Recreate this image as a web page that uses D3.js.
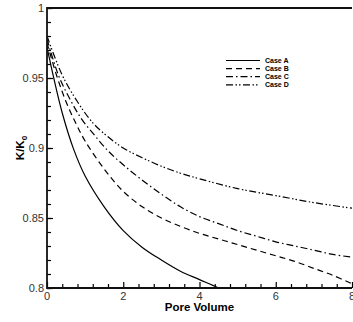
<!DOCTYPE html>
<html lang="en">
	<head>
		<meta charset="utf-8">
		<title>K/K0 vs Pore Volume</title>
		<script type="text/javascript" src="https://cdn.jsdelivr.net/npm/d3@7"></script>
		<style>
			body { margin: 0; background: #fff; }
			text { font-family: "Liberation Sans", Arial, sans-serif; }
		</style>
	</head>
	<body>
		<script type="text/javascript">

			//
			// Data
			//
			var caseNames = ["Case A", "Case B", "Case C", "Case D"];

			var caseAx = [0, 0.16, 0.4, 0.7, 1.0, 1.5, 2.0, 2.5, 3.0, 3.5, 4.0, 4.5, 4.7];
			var caseAy = [0.972, 0.952, 0.925, 0.899, 0.880, 0.858, 0.841, 0.829, 0.820, 0.812, 0.806, 0.800, 0.797];

			var caseBx = [0, 0.25, 0.5, 0.75, 1.0, 1.5, 2.0, 2.5, 3.0, 3.5, 4.0, 4.5, 5.0, 5.5, 6.0, 6.5, 7.0, 7.5, 8.0];
			var caseBy = [0.975, 0.952, 0.933, 0.918, 0.905, 0.885, 0.869, 0.858, 0.850, 0.844, 0.839, 0.835, 0.831, 0.827, 0.823, 0.819, 0.814, 0.809, 0.803];

			var caseCx = [0, 0.3, 0.6, 0.9, 1.25, 1.6, 2.0, 2.5, 3.0, 3.5, 4.0, 4.5, 5.0, 5.5, 6.0, 6.5, 7.0, 7.5, 8.0];
			var caseCy = [0.978, 0.952, 0.935, 0.921, 0.909, 0.898, 0.888, 0.877, 0.867, 0.858, 0.851, 0.846, 0.841, 0.837, 0.833, 0.830, 0.827, 0.824, 0.822];

			var caseDx = [0, 0.4, 0.8, 1.2, 1.6, 2.0, 2.5, 3.0, 3.5, 4.0, 5.0, 6.0, 7.0, 8.0];
			var caseDy = [0.980, 0.952, 0.933, 0.918, 0.908, 0.900, 0.893, 0.887, 0.882, 0.878, 0.871, 0.866, 0.861, 0.857];

			var xMajorTicks = [0, 2, 4, 6, 8];
			var yMajorTicks = [0.8, 0.85, 0.9, 0.95, 1];

			var dashes = [null, "6,4", "7,3,1.5,3", "7,2.5,1.5,2,1.5,2.5"];

			//
			// Layout
			//
			var width = 353, height = 322;
			var plotLeft = 47, plotRight = 352, plotTop = 8, plotBottom = 288;

			var svg = d3.select("body")
				.append("svg")
				.attr("width", width)
				.attr("height", height);

			var x = d3.scaleLinear().domain([0, 8]).range([plotLeft, plotRight]);
			var y = d3.scaleLinear().domain([0.8, 1]).range([plotBottom, plotTop]);

			svg.append("clipPath")
				.attr("id", "plot")
				.append("rect")
				.attr("x", plotLeft).attr("y", plotTop)
				.attr("width", plotRight - plotLeft).attr("height", plotBottom - plotTop);

			var series = [
				d3.zip(caseAx, caseAy),
				d3.zip(caseBx, caseBy),
				d3.zip(caseCx, caseCy),
				d3.zip(caseDx, caseDy)
			];

			var line = d3.line()
				.x(function(d) { return x(d[0]); })
				.y(function(d) { return y(d[1]); })
				.curve(d3.curveCatmullRom.alpha(0.5));

			svg.append("g")
				.attr("clip-path", "url(#plot)")
				.selectAll("path")
				.data(series)
				.enter()
				.append("path")
				.attr("d", line)
				.attr("fill", "none")
				.attr("stroke", "#000")
				.attr("stroke-width", 1.2)
				.attr("stroke-dasharray", function(d, i) { return dashes[i]; });

			//
			// Axes (ticks point inward)
			//
			var xMinor = d3.range(0, 8.001, 0.4).filter(function(v) {
				return xMajorTicks.indexOf(Math.round(v * 10) / 10) < 0;
			});
			var yMinor = d3.range(0.8, 1.0001, 0.01);

			svg.append("g")
				.attr("transform", "translate(0," + plotBottom + ")")
				.call(d3.axisTop(x).tickValues(xMinor).tickSize(4).tickFormat(""))
				.call(function(g) { g.select(".domain").remove(); });

			svg.append("g")
				.attr("transform", "translate(0," + plotBottom + ")")
				.call(d3.axisTop(x).tickValues(xMajorTicks).tickSize(6).tickFormat(""))
				.call(function(g) { g.select(".domain").remove(); });

			svg.append("g")
				.attr("transform", "translate(" + plotLeft + ",0)")
				.call(d3.axisRight(y).tickValues(yMinor).tickSize(4).tickFormat(""))
				.call(function(g) { g.select(".domain").remove(); });

			svg.append("g")
				.attr("transform", "translate(" + plotLeft + ",0)")
				.call(d3.axisRight(y).tickValues(yMajorTicks).tickSize(6).tickFormat(""))
				.call(function(g) { g.select(".domain").remove(); });

			svg.selectAll(".tick line").attr("stroke", "#000").attr("stroke-width", 1.2);

			// frame lines
			svg.append("path")
				.attr("d", "M" + plotRight + "," + plotBottom + "H" + plotLeft + "V" + plotTop + "H" + plotRight)
				.attr("fill", "none")
				.attr("stroke", "#111")
				.attr("stroke-width", 1.8);

			// tick labels
			svg.selectAll(".xlab")
				.data(xMajorTicks)
				.enter()
				.append("text")
				.attr("x", function(d) { return x(d); })
				.attr("y", plotBottom + 12)
				.attr("text-anchor", "middle")
				.attr("font-size", 11)
				.attr("fill", "#333")
				.text(function(d) { return d; });

			svg.selectAll(".ylab")
				.data(yMajorTicks)
				.enter()
				.append("text")
				.attr("x", plotLeft - 3)
				.attr("y", function(d) { return y(d) + 4; })
				.attr("text-anchor", "end")
				.attr("font-size", 11)
				.attr("fill", "#333")
				.text(function(d) { return d; });

			// axis titles
			svg.append("text")
				.attr("x", (plotLeft + plotRight) / 2)
				.attr("y", plotBottom + 23)
				.attr("text-anchor", "middle")
				.attr("font-size", 11.5)
				.attr("font-weight", "bold")
				.text("Pore Volume");

			var yt = svg.append("text")
				.attr("transform", "translate(24," + ((plotTop + plotBottom) / 2) + ") rotate(-90)")
				.attr("text-anchor", "middle")
				.attr("font-size", 11.5)
				.attr("font-weight", "bold");
			yt.append("tspan").text("K/K");
			yt.append("tspan").attr("font-size", 8).attr("dy", 3).text("0");

			//
			// Legend
			//
			var legend = svg.append("g");
			caseNames.forEach(function(name, i) {
				var ly = 60.5 + i * 8.1;
				legend.append("line")
					.attr("x1", 226).attr("x2", 260)
					.attr("y1", ly).attr("y2", ly)
					.attr("stroke", "#000")
					.attr("stroke-width", 1.2)
					.attr("stroke-dasharray", dashes[i]);
				legend.append("text")
					.attr("x", 265)
					.attr("y", ly + 2.5)
					.attr("font-size", 7)
					.attr("font-weight", "bold")
					.text(name);
			});

		</script>
	</body>
</html>
